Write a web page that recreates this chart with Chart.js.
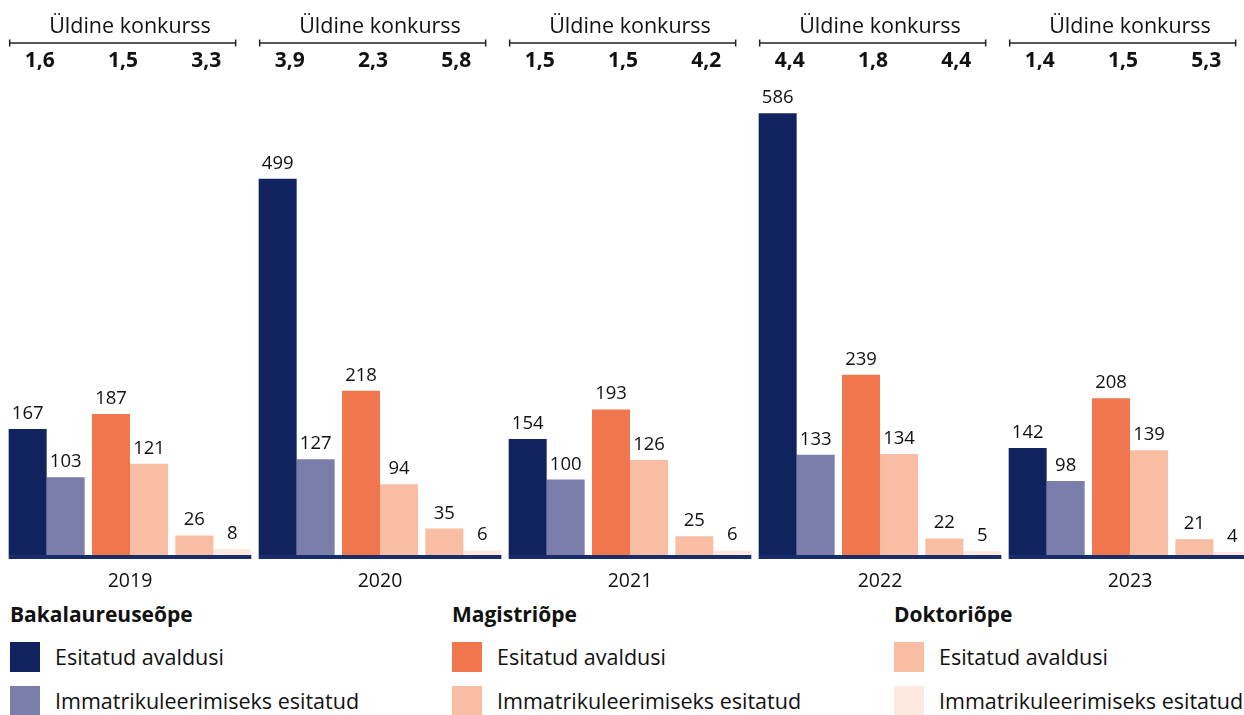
<!DOCTYPE html>
<html>
<head>
<meta charset="utf-8">
<script src="https://cdn.jsdelivr.net/npm/chart.js@4"></script>
<style>
  html, body { margin: 0; padding: 0; background: #fff; overflow: hidden; width: 1244px; height: 715px; }
  body { font-family: "Open Sans", sans-serif; color: #111; }
  #wrap { position: relative; width: 1260px; height: 600px; }
  .legend { position: absolute; top: 600px; left: 0; width: 1260px; height: 115px; }
  .col { position: absolute; top: 0; white-space: nowrap; }
  .col h3 { margin: 0; font-size: 21px; font-weight: 700; position: absolute; top: 0; left: 0; }
  .item { position: absolute; left: 0; font-size: 21.5px; }
  .item span.sw { position: absolute; left: 0; top: 2px; width: 30px; height: 30px; }
  .item span.tx { position: absolute; left: 45px; top: 0; line-height: 34px; }
</style>
</head>
<body>
<div id="wrap"><canvas id="chart" width="1260" height="600"></canvas></div>
<div class="legend" id="legend"></div>
<script>
// years and study levels
const years = ["2019", "2020", "2021", "2022", "2023"];
const levels = ["Bakalaureuseõpe", "Magistriõpe", "Doktoriõpe"];

// submitted applications, per year: bachelor, master, doctoral
const esitatud = [
  167, 187, 26,
  499, 218, 35,
  154, 193, 25,
  586, 239, 22,
  142, 208, 21
];
// submitted for matriculation
const immatrikuleeritud = [
  103, 121, 8,
  127, 94, 6,
  100, 126, 6,
  133, 134, 5,
  98, 139, 4
];
// general competition per year
const konkurss = [
  ["1,6", "1,5", "3,3"],
  ["3,9", "2,3", "5,8"],
  ["1,5", "1,5", "4,2"],
  ["4,4", "1,8", "4,4"],
  ["1,4", "1,5", "5,3"]
];

const colEsitatud = ["#10235f", "#ef764d", "#f8bda2"];
const colImmat = ["#7b7daa", "#f8bda2", "#fde9e0"];
const navy = "#1a2d6b";
const font = '"Open Sans", sans-serif';

const labels = [];
years.forEach(y => levels.forEach(l => labels.push(y + " " + l)));

const overlay = {
  id: "overlay",
  afterDatasetsDraw(chart) {
    const { ctx, scales: { x }, chartArea } = chart;
    ctx.save();
    // value labels
    ctx.fillStyle = "#111";
    ctx.font = "18.5px " + font;
    ctx.textAlign = "center";
    ctx.textBaseline = "alphabetic";
    chart.data.datasets.forEach((ds, di) => {
      chart.getDatasetMeta(di).data.forEach((bar, i) => {
        ctx.fillText(String(ds.data[i]), bar.x, bar.y - 10);
      });
    });
    years.forEach((yr, g) => {
      const left = x.getPixelForValue(g * 3) - 38;
      const right = x.getPixelForValue(g * 3 + 2) + 38;
      const mid = (left + right) / 2;
      // base line
      ctx.fillStyle = navy;
      ctx.fillRect(left, chartArea.bottom, right - left, 4);
      // year label
      ctx.fillStyle = "#111";
      ctx.font = "19.5px " + font;
      ctx.textBaseline = "middle";
      ctx.fillText(yr, mid, chartArea.bottom + 26);
      // header
      ctx.font = "21.5px " + font;
      ctx.fillText("Üldine konkurss", mid, 27);
      ctx.strokeStyle = "#222";
      ctx.lineWidth = 1.5;
      ctx.beginPath();
      ctx.moveTo(left + 1, 43);
      ctx.lineTo(left + 227, 43);
      ctx.moveTo(left + 1, 39.5);
      ctx.lineTo(left + 1, 46.5);
      ctx.moveTo(left + 227, 39.5);
      ctx.lineTo(left + 227, 46.5);
      ctx.stroke();
      ctx.font = "bold 21px " + font;
      konkurss[g].forEach((v, k) => {
        ctx.fillText(v, x.getPixelForValue(g * 3 + k) - 7, 61);
      });
    });
    ctx.restore();
  }
};

new Chart(document.getElementById("chart"), {
  type: "bar",
  data: {
    labels,
    datasets: [
      {
        label: "Esitatud avaldusi",
        data: esitatud,
        backgroundColor: esitatud.map((_, i) => colEsitatud[i % 3])
      },
      {
        label: "Immatrikuleerimiseks esitatud",
        data: immatrikuleeritud,
        backgroundColor: immatrikuleeritud.map((_, i) => colImmat[i % 3])
      }
    ]
  },
  options: {
    responsive: false,
    animation: false,
    layout: { padding: { left: 5, right: 5, top: 80, bottom: 45 } },
    datasets: { bar: { categoryPercentage: 0.912, barPercentage: 1.0 } },
    plugins: { legend: { display: false }, tooltip: { enabled: false } },
    scales: {
      x: { display: false },
      y: { display: false, min: 0, max: 630 }
    }
  },
  plugins: [overlay]
});

// legend
const legendEl = document.getElementById("legend");
const colLeft = [10, 452, 894];
levels.forEach((lvl, k) => {
  const col = document.createElement("div");
  col.className = "col";
  col.style.left = colLeft[k] + "px";
  col.innerHTML =
    '<h3>' + lvl + '</h3>' +
    '<div class="item" style="top:40px"><span class="sw" style="background:' + colEsitatud[k] + '"></span><span class="tx">Esitatud avaldusi</span></div>' +
    '<div class="item" style="top:84px"><span class="sw" style="background:' + colImmat[k] + '"></span><span class="tx">Immatrikuleerimiseks esitatud</span></div>';
  legendEl.appendChild(col);
});
</script>
</body>
</html>
